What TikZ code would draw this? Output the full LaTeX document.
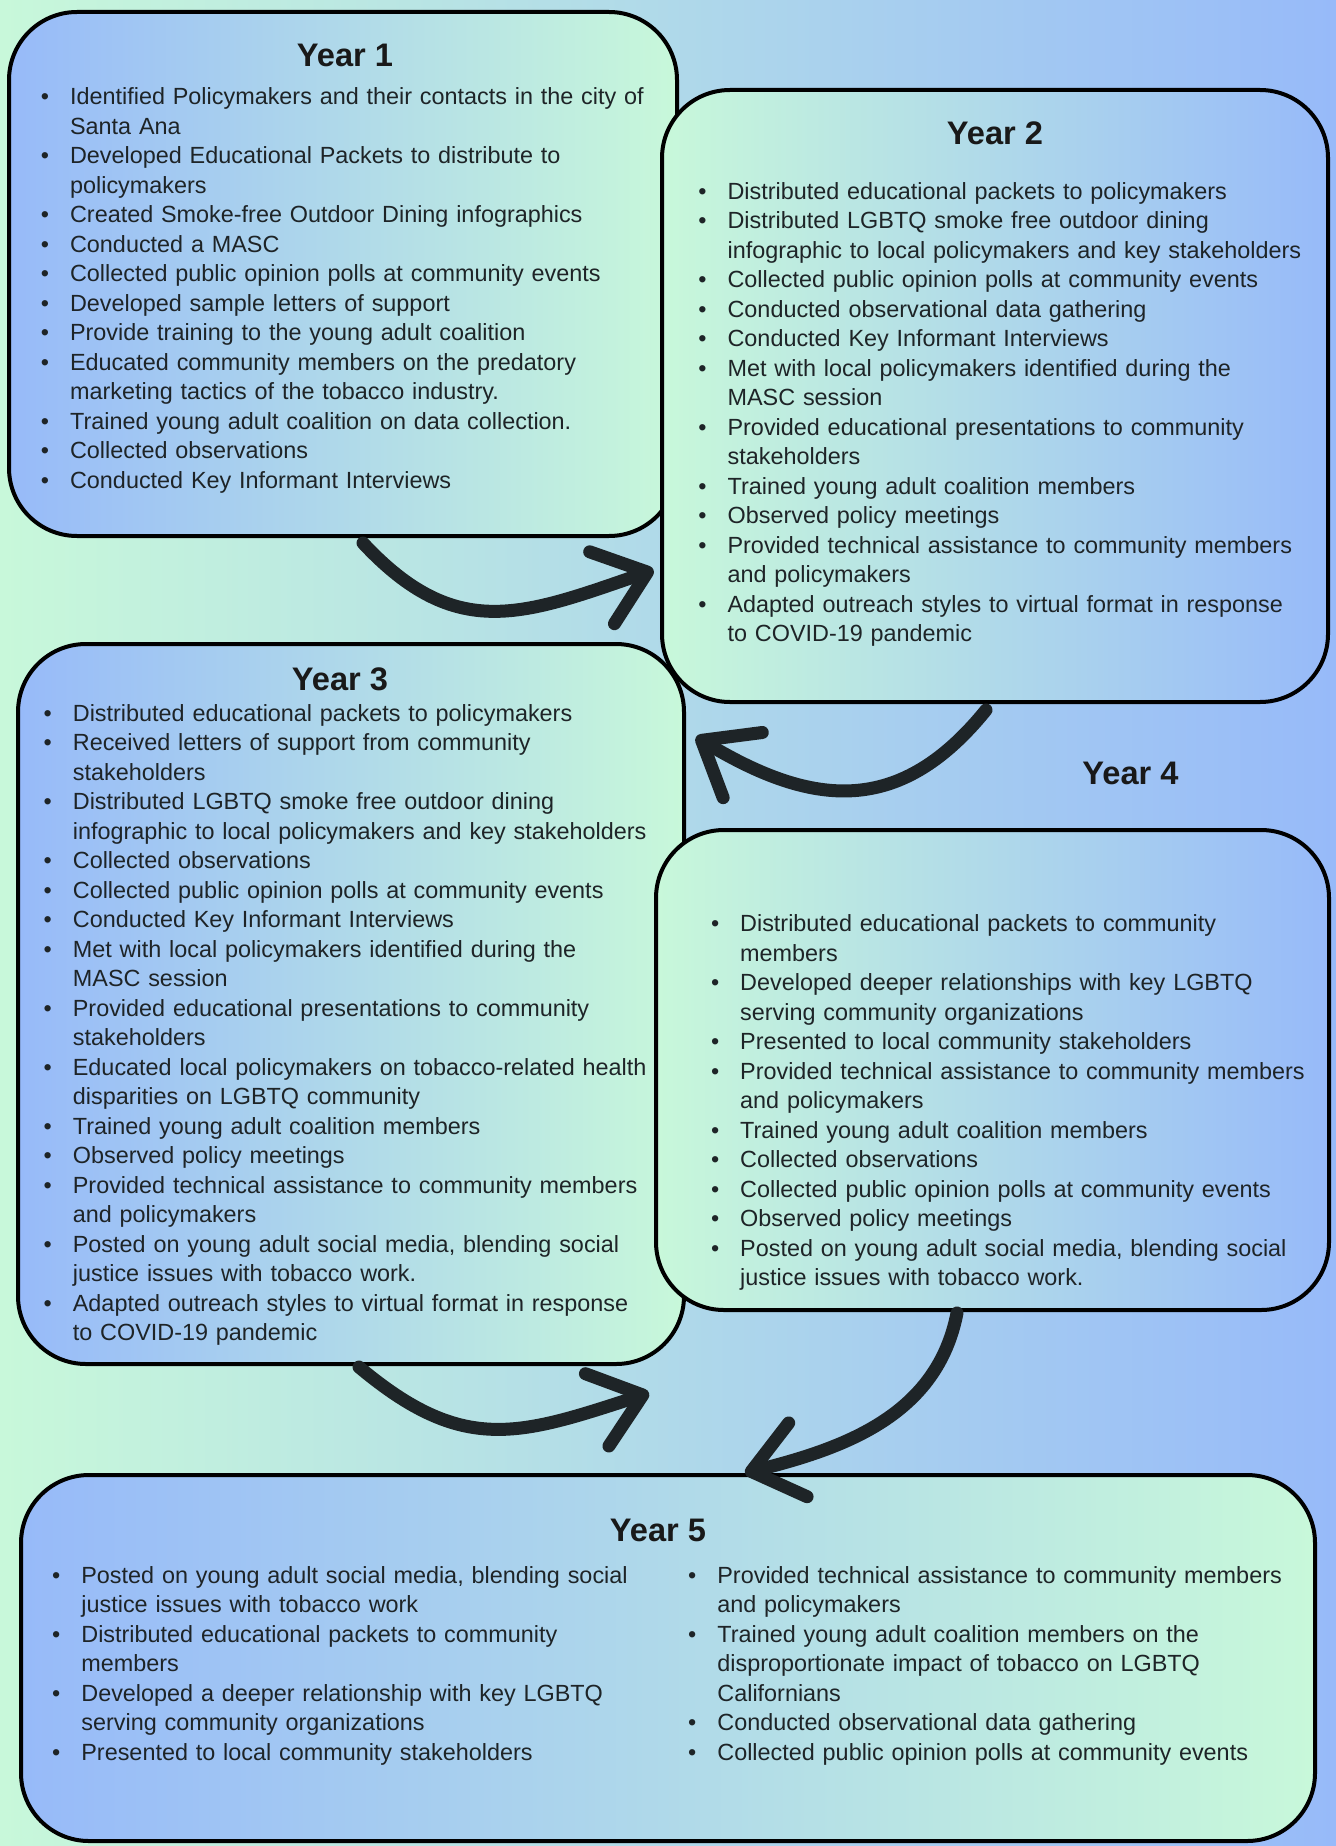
\documentclass[tikz,border=0pt]{standalone}
\usepackage{fontspec}
\setmainfont{Liberation Sans}
\usetikzlibrary{positioning,arrows.meta}

\definecolor{mint}{HTML}{C8F8DA}
\definecolor{skyblue}{HTML}{97BAF9}
\definecolor{ink}{HTML}{1E2427}

\newcommand{\yitem}{\par\noindent\hangindent=14.6pt\hangafter=1\strut\makebox[14.6pt][l]{\textbullet}}

\begin{document}
\begin{tikzpicture}[%
x=1pt, y=1pt,
>={Straight Barb[round,length=24pt,width=38pt]},
yearbox/.style={draw=black, line width=2pt, rounded corners=34pt},
yeartitle/.style={font=\fontsize{16.3pt}{19pt}\selectfont\bfseries, text=black!90},
yearlist/.style={font=\fontsize{11.7pt}{14.75pt}\selectfont, text=ink, align=left, text width=330pt, inner sep=0pt},
swoosh/.style={->, draw=ink, line width=6.5pt, line cap=round}
]

\shade[left color=mint, right color=skyblue] (0,0) rectangle (668,-923);
\useasboundingbox (0,0) rectangle (668,-923);

% year 1
\node[yearbox, left color=skyblue, right color=mint, minimum width=334pt, minimum height=262pt] (y1) at (171.5,-137) {};
\node[yeartitle] (t1) at ([xshift=1pt,yshift=-22.5pt]y1.north) {Year 1};
\node[yearlist, below right=32.4pt and 16.75pt of y1.north west] (l1) {%
\yitem Identified Policymakers and their contacts in the city of\newline Santa Ana
\yitem Developed Educational Packets to distribute to\newline policymakers
\yitem Created Smoke-free Outdoor Dining infographics
\yitem Conducted a MASC
\yitem Collected public opinion polls at community events
\yitem Developed sample letters of support
\yitem Provide training to the young adult coalition
\yitem Educated community members on the predatory\newline marketing tactics of the tobacco industry.
\yitem Trained young adult coalition on data collection.
\yitem Collected observations
\yitem Conducted Key Informant Interviews\par};

% year 2
\node[yearbox, left color=mint, right color=skyblue, minimum width=333pt, minimum height=306pt] (y2) at (497.5,-198) {};
\node[yeartitle] (t2) at ([yshift=-22.5pt]y2.north) {Year 2};
\node[yearlist, below right=40.7pt and 19pt of y2.north west] (l2) {%
\yitem Distributed educational packets to policymakers
\yitem Distributed LGBTQ smoke free outdoor dining\newline infographic to local policymakers and key stakeholders
\yitem Collected public opinion polls at community events
\yitem Conducted observational data gathering
\yitem Conducted Key Informant Interviews
\yitem Met with local policymakers identified during the\newline MASC session
\yitem Provided educational presentations to community\newline stakeholders
\yitem Trained young adult coalition members
\yitem Observed policy meetings
\yitem Provided technical assistance to community members\newline and policymakers
\yitem Adapted outreach styles to virtual format in response\newline to COVID-19 pandemic\par};

% year 3
\node[yearbox, left color=skyblue, right color=mint, minimum width=333pt, minimum height=360pt] (y3) at (175.5,-502) {};
\node[yeartitle] (t3) at ([xshift=-5.5pt,yshift=-18.5pt]y3.north) {Year 3};
\node[yearlist, below right=24.55pt and 13.65pt of y3.north west] (l3) {%
\yitem Distributed educational packets to policymakers
\yitem Received letters of support from community\newline stakeholders
\yitem Distributed LGBTQ smoke free outdoor dining\newline infographic to local policymakers and key stakeholders
\yitem Collected observations
\yitem Collected public opinion polls at community events
\yitem Conducted Key Informant Interviews
\yitem Met with local policymakers identified during the\newline MASC session
\yitem Provided educational presentations to community\newline stakeholders
\yitem Educated local policymakers on tobacco-related health\newline disparities on LGBTQ community
\yitem Trained young adult coalition members
\yitem Observed policy meetings
\yitem Provided technical assistance to community members\newline and policymakers
\yitem Posted on young adult social media, blending social\newline justice issues with tobacco work.
\yitem Adapted outreach styles to virtual format in response\newline to COVID-19 pandemic\par};

% year 4
\node[yearbox, left color=mint, right color=skyblue, minimum width=336.5pt, minimum height=240pt] (y4) at (496.25,-535) {};
\node[yeartitle] (t4) at ([xshift=69pt,yshift=27.5pt]y4.north) {Year 4};
\node[yearlist, below right=36.85pt and 28.3pt of y4.north west] (l4) {%
\yitem Distributed educational packets to community\newline members
\yitem Developed deeper relationships with key LGBTQ\newline serving community organizations
\yitem Presented to local community stakeholders
\yitem Provided technical assistance to community members\newline and policymakers
\yitem Trained young adult coalition members
\yitem Collected observations
\yitem Collected public opinion polls at community events
\yitem Observed policy meetings
\yitem Posted on young adult social media, blending social\newline justice issues with tobacco work.\par};

% year 5
\node[yearbox, left color=skyblue, right color=mint, minimum width=647pt, minimum height=183pt] (y5) at (334,-829) {};
\node[yeartitle] (t5) at ([xshift=-5pt,yshift=-28.5pt]y5.north) {Year 5};
\node[yearlist, below right=40.2pt and 16.4pt of y5.north west] (l5a) {%
\yitem Posted on young adult social media, blending social\newline justice issues with tobacco work
\yitem Distributed educational packets to community\newline members
\yitem Developed a deeper relationship with key LGBTQ\newline serving community organizations
\yitem Presented to local community stakeholders\par};
\node[yearlist, below right=40.2pt and 334.4pt of y5.north west] (l5b) {%
\yitem Provided technical assistance to community members\newline and policymakers
\yitem Trained young adult coalition members on the\newline disproportionate impact of tobacco on LGBTQ\newline Californians
\yitem Conducted observational data gathering
\yitem Collected public opinion polls at community events\par};

% arrows
\coordinate (a1s) at ([xshift=10pt,yshift=-2.5pt]y1.south);
\coordinate (a1e) at (326.8,-285);
\coordinate (a2s) at ([xshift=-4.5pt,yshift=-3pt]y2.south);
\coordinate (a2e) at (348,-368.5);
\coordinate (a3s) at ([xshift=4pt,yshift=-0.5pt]y3.south);
\coordinate (a3e) at (324.5,-696.5);
\coordinate (a4s) at ([xshift=-17.75pt,yshift=-0.5pt]y4.south);
\coordinate (a4e) at (372.5,-736.5);

\draw[swoosh] (a1s) to[out=-47, in=199, looseness=1.2] (a1e);
\draw[swoosh] (a2s) to[out=231, in=-31, looseness=1.2] (a2e);
\draw[swoosh] (a3s) to[out=-40, in=198, looseness=1.2] (a3e);
\draw[swoosh] (a4s) to[out=259, in=14] (a4e);

\end{tikzpicture}
\end{document}
